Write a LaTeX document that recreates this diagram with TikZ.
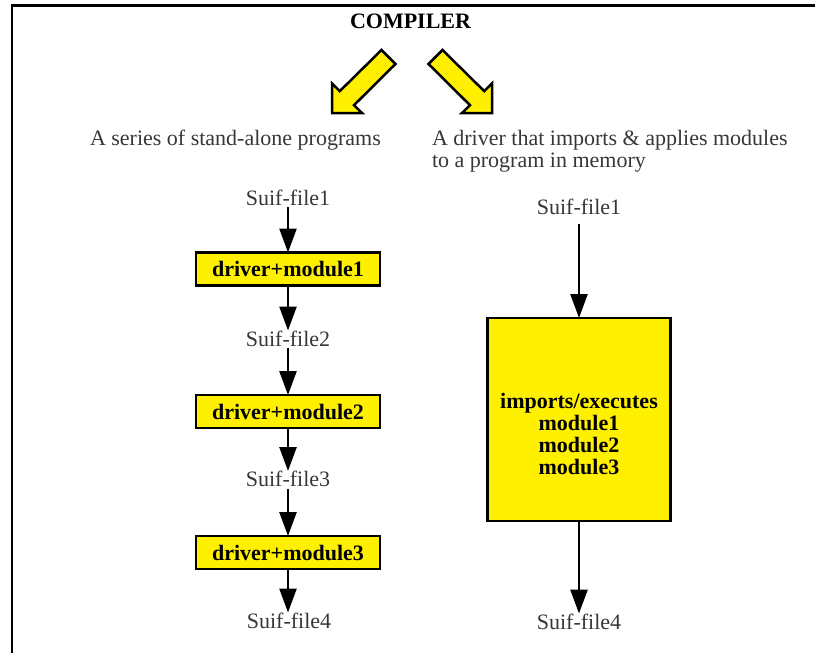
\documentclass[tikz,border=0pt]{standalone}
\usepackage{fontspec}
\setmainfont{Liberation Serif}
\usetikzlibrary{arrows.meta}
\definecolor{boxyellow}{RGB}{255,240,0}
\definecolor{textgray}{RGB}{55,55,55}

\begin{document}
\begin{tikzpicture}[x=1pt,y=-1pt,
  every node/.style={inner sep=0pt, outer sep=0pt},
  plain/.style={font=\fontsize{22}{22.3}\selectfont, text=textgray},
  heavy/.style={font=\fontsize{22}{22.3}\selectfont\bfseries, text=black},
  modbox/.style={draw, line width=2.5pt, fill=boxyellow, minimum width=184pt, minimum height=33pt, heavy},
  membox/.style={draw, line width=2.5pt, fill=boxyellow, minimum width=183pt, minimum height=203pt},
  flow/.style={draw, line width=2.6pt, -{Triangle[length=24pt,width=17pt]}},
  bigarrow/.style={draw, line width=2.5pt, fill=boxyellow, line join=miter}
]
\useasboundingbox (0,0) rectangle (815,653);

% frame
\draw[line width=2.5pt] (12,653) -- (12,5.5) -- (815,5.5);

% title
\node[heavy, anchor=base] (title) at (410.5,28.5) {COMPILER};

% the two block arrows
\filldraw[bigarrow] (332,113) -- (362,113) -- (354,105.2) -- (395.5,64) -- (381.5,50) -- (339.8,91.1) -- (332,83.3) -- cycle;
\filldraw[bigarrow] (492,113) -- (462,113) -- (470,105.2) -- (428.5,64) -- (442.5,50) -- (484.2,91.1) -- (492,83.3) -- cycle;

% headings
\node[plain, anchor=base west] (hleft) at (90,145.5) {A series of stand-alone programs};
\node[plain, anchor=base west] (hright1) at (432,145.5) {A driver that imports \& applies modules};
\node[plain, anchor=base west] (hright2) at (432,167.5) {to a program in memory};

% left column: stand-alone programs
\node[plain, anchor=base] (f1) at (288,205) {Suif-file1};
\node[modbox] (b1) at (288,269) {driver+module1};
\node[plain, anchor=base] (f2) at (288,346) {Suif-file2};
\node[modbox] (b2) at (288,411.5) {driver+module2};
\node[plain, anchor=base] (f3) at (288,486.5) {Suif-file3};
\node[modbox] (b3) at (288,552.5) {driver+module3};
\node[plain, anchor=base] (f4) at (289,628) {Suif-file4};

\draw[flow, shorten <=2pt] (f1) -- (b1);
\draw[flow] (b1) -- (f2);
\draw[flow, shorten <=2pt] (f2) -- (b2);
\draw[flow] (b2) -- (f3);
\draw[flow, shorten <=2pt] (f3) -- (b3);
\draw[flow] (b3.south) -- (f4.north -| b3.south);

% right column: driver with modules in memory
\node[plain, anchor=base] (rf1) at (579,214) {Suif-file1};
\node[membox] (mem) at (579,419.5) {};
\node[heavy, align=center] (memtext) at (579,434) {imports/executes\\module1\\module2\\module3};
\node[plain, anchor=base] (rf4) at (579,629) {Suif-file4};

\draw[flow, shorten <=10pt] (rf1) -- (mem);
\draw[flow] (mem) -- (rf4);
\end{tikzpicture}
\end{document}
